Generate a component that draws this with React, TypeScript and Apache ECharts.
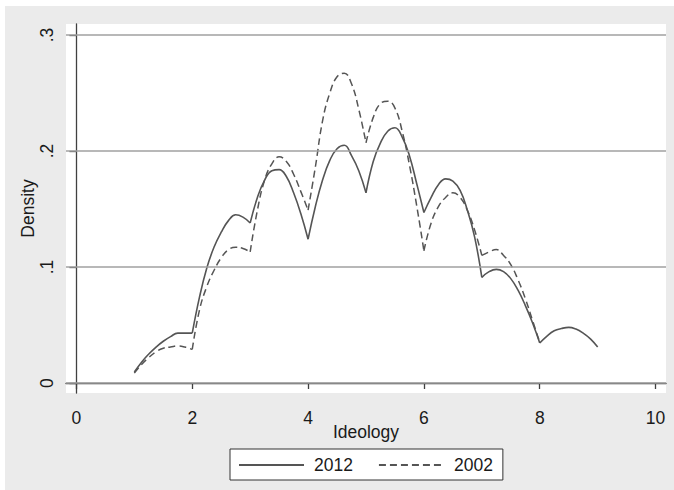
import React, { useEffect, useRef } from "react";
import * as echarts from "echarts";

const ideology = [
  1, 1.125, 1.25, 1.375, 1.5, 1.625, 1.75, 1.875,
  2, 2.125, 2.25, 2.375, 2.5, 2.625, 2.75, 2.875,
  3, 3.125, 3.25, 3.375, 3.5, 3.625, 3.75, 3.875,
  4, 4.125, 4.25, 4.375, 4.5, 4.625, 4.75, 4.875,
  5, 5.125, 5.25, 5.375, 5.5, 5.625, 5.75, 5.875,
  6, 6.125, 6.25, 6.375, 6.5, 6.625, 6.75, 6.875,
  7, 7.125, 7.25, 7.375, 7.5, 7.625, 7.75, 7.875,
  8, 8.125, 8.25, 8.375, 8.5, 8.625, 8.75, 8.875,
  9,
];

const density2012 = [
  0.0095, 0.018, 0.025, 0.031, 0.036, 0.040, 0.043, 0.043,
  0.043, 0.074, 0.099, 0.117, 0.130, 0.140, 0.145, 0.143,
  0.138, 0.160, 0.175, 0.183, 0.184, 0.178, 0.164, 0.146,
  0.124, 0.152, 0.175, 0.192, 0.202, 0.205, 0.196, 0.183,
  0.164, 0.191, 0.207, 0.217, 0.220, 0.212, 0.196, 0.172,
  0.147, 0.160, 0.171, 0.176, 0.174, 0.166, 0.149, 0.126,
  0.091, 0.096, 0.098, 0.096, 0.090, 0.080, 0.067, 0.052,
  0.0345, 0.0405, 0.045, 0.047, 0.048, 0.0465, 0.043, 0.038,
  0.031,
];

const density2002 = [
  0.0085, 0.016, 0.022, 0.027, 0.030, 0.031, 0.032, 0.031,
  0.029, 0.063, 0.083, 0.097, 0.108, 0.115, 0.117, 0.116,
  0.113, 0.149, 0.175, 0.189, 0.195, 0.191, 0.180, 0.165,
  0.149, 0.186, 0.226, 0.250, 0.264, 0.267, 0.258, 0.236,
  0.207, 0.229, 0.241, 0.243, 0.237, 0.217, 0.188, 0.153,
  0.114, 0.138, 0.152, 0.160, 0.164, 0.160, 0.149, 0.132,
  0.110, 0.113, 0.115, 0.110, 0.102, 0.089, 0.073, 0.054,
  0.035,
];

const xTicks = [0, 2, 4, 6, 8, 10];
const yTicks = [0, 0.1, 0.2, 0.3];
const seriesNames = ["2012", "2002"];

const FONT = "'Liberation Sans', Arial, sans-serif";
const LINE_COLOR = "#555555";

function arches(ys: number[]) {
  const out: number[][][] = [];
  let cur: number[][] = [];
  for (let i = 0; i < ys.length; i++) {
    const x = ideology[i];
    cur.push([x, ys[i]]);
    if (i > 0 && Number.isInteger(x) && i < ys.length - 1) {
      out.push(cur);
      cur = [[x, ys[i]]];
    }
  }
  if (cur.length > 1) out.push(cur);
  return out;
}

export default function App() {
  const ref = useRef<HTMLDivElement>(null);
  useEffect(() => {
    if (!ref.current) return;
    const chart = echarts.init(ref.current, undefined, { renderer: "svg" });
    const styles = [
      { color: LINE_COLOR, width: 1.6, type: "solid" as any },
      { color: LINE_COLOR, width: 1.5, type: [7, 4] as any },
    ];
    const series: any[] = [
      {
        type: "line",
        name: "_grid",
        data: [],
        z: 1,
        silent: true,
        markLine: {
          silent: true,
          symbol: ["none", "none"],
          label: { show: false },
          lineStyle: { color: "#a0a0a0", width: 1.5, type: "solid" },
          data: yTicks.map((v) => ({ yAxis: v })),
        },
      },
    ];
    [density2012, density2002].forEach((ys, k) => {
      arches(ys).forEach((seg) => {
        series.push({
          type: "line",
          name: seriesNames[k],
          data: seg,
          smooth: 0.45,
          symbol: "none",
          showSymbol: false,
          z: 3,
          lineStyle: styles[k],
          itemStyle: { color: LINE_COLOR },
        });
      });
    });
    chart.setOption({
      animation: false,
      backgroundColor: "#ebebeb",
      textStyle: { fontFamily: FONT },
      graphic: [
        { type: "rect", shape: { x: 0, y: 0, width: 674, height: 6 }, style: { fill: "#ffffff" }, z: -5 },
        { type: "rect", shape: { x: 0, y: 0, width: 5, height: 490 }, style: { fill: "#ffffff" }, z: -5 },
      ],
      grid: {
        left: 66,
        top: 24,
        right: 8,
        bottom: 97,
        show: true,
        backgroundColor: "#ffffff",
        borderWidth: 0,
      },
      legend: {
        data: seriesNames,
        left: 230,
        top: 449,
        orient: "horizontal",
        backgroundColor: "#ffffff",
        borderColor: "#333333",
        borderWidth: 1,
        borderRadius: 0,
        padding: [7, 10, 6, 8],
        itemWidth: 65,
        itemHeight: 14,
        itemGap: 25,
        selectedMode: false,
        itemStyle: { opacity: 0 },
        textStyle: { fontSize: 17.5, color: "#1a1a1a", fontFamily: FONT, padding: [0, 0, 0, 5] },
      },
      xAxis: {
        type: "value",
        min: -0.18,
        max: 10.18,
        name: "Ideology",
        nameLocation: "middle",
        nameGap: 30,
        nameMoveOverlap: false,
        nameTextStyle: { fontSize: 17.5, color: "#1a1a1a", fontFamily: FONT },
        axisLine: { show: true, lineStyle: { color: "#404040", width: 1.3 } },
        axisTick: { show: true, length: 6, customValues: xTicks, lineStyle: { color: "#404040", width: 1.3 } },
        axisLabel: {
          customValues: xTicks,
          margin: 16,
          fontSize: 17.5,
          color: "#1a1a1a",
          fontFamily: FONT,
          formatter: (v: number) => String(v),
        },
        splitLine: { show: false },
      },
      yAxis: {
        type: "value",
        min: -0.0086,
        max: 0.3095,
        name: "Density",
        nameLocation: "middle",
        nameGap: 29,
        nameMoveOverlap: false,
        nameTextStyle: { fontSize: 17.5, color: "#1a1a1a", fontFamily: FONT },
        axisLine: { show: true, lineStyle: { color: "#404040", width: 1.3 } },
        axisTick: { show: true, length: 7, customValues: yTicks, lineStyle: { color: "#404040", width: 1.3 } },
        axisLabel: {
          customValues: yTicks,
          rotate: 90,
          margin: 10,
          fontSize: 17.5,
          color: "#1a1a1a",
          fontFamily: FONT,
          formatter: (v: number) => (v === 0 ? "0" : String(Math.round(v * 10) / 10).replace(/^0\./, ".")),
        },
        splitLine: { show: false },
      },
      series,
    });
    return () => chart.dispose();
  }, []);
  return (
    <div
      ref={ref}
      style={{ position: "absolute", left: 0, top: 0, width: 674, height: 490 }}
    />
  );
}
